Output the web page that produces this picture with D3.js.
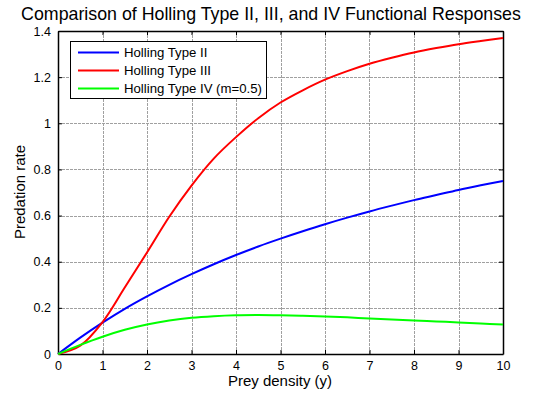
<!DOCTYPE html>
<html>
<head>
<meta charset="utf-8">
<script src="https://cdn.jsdelivr.net/npm/d3@7"></script>
<style>
  html, body { margin: 0; padding: 0; background: #fff; }
  svg { display: block; font-family: "Liberation Sans", Arial, sans-serif; }
</style>
</head>
<body>
<svg id="chart" width="536" height="393"></svg>
<script>
// Prey density samples
const preyDensity = [0, 0.5, 1, 1.5, 2, 2.5, 3, 3.5, 4, 4.5, 5, 5.5, 6, 6.5, 7, 7.5, 8, 8.5, 9, 9.5, 10];

// Predation rates per functional response
const typeII = [0, 0.071, 0.136, 0.196, 0.25, 0.30, 0.346, 0.389, 0.429, 0.466, 0.50, 0.532, 0.5625, 0.591, 0.618, 0.643, 0.667, 0.689, 0.711, 0.731, 0.75];
const typeIII = [0, 0.036, 0.138, 0.288, 0.44, 0.595, 0.73, 0.847, 0.94, 1.022, 1.09, 1.143, 1.189, 1.226, 1.258, 1.284, 1.307, 1.326, 1.343, 1.357, 1.37];
const typeIV = [0, 0.0395, 0.075, 0.105, 0.128, 0.145, 0.157, 0.164, 0.168, 0.169, 0.168, 0.166, 0.163, 0.159, 0.154, 0.150, 0.145, 0.141, 0.137, 0.132, 0.128];

const seriesNames = ["Holling Type II", "Holling Type III", "Holling Type IV (m=0.5)"];
const seriesColors = ["#0000ff", "#ff0000", "#00ff00"];

const xTicks = [0, 1, 2, 3, 4, 5, 6, 7, 8, 9, 10];
const yTicks = [0, 0.2, 0.4, 0.6, 0.8, 1, 1.2, 1.4];

const titleText = "Comparison of Holling Type II, III, and IV Functional Responses";
const xLabel = "Prey density (y)";
const yLabel = "Predation rate";

const svg = d3.select("#chart");
const plot = { left: 58, right: 503, top: 31, bottom: 354 };

const x = d3.scaleLinear().domain([0, 10]).range([plot.left, plot.right]);
const y = d3.scaleLinear().domain([0, 1.4]).range([plot.bottom, plot.top]);

// Grid
const grid = svg.append("g").attr("stroke", "#a0a0a0").attr("stroke-width", 1).attr("stroke-dasharray", "3,1");
grid.selectAll("line.vx").data(xTicks.slice(1, -1)).enter().append("line")
  .attr("x1", d => Math.round(x(d)) + 0.5).attr("x2", d => Math.round(x(d)) + 0.5)
  .attr("y1", plot.top).attr("y2", plot.bottom);
grid.selectAll("line.hy").data(yTicks.slice(1, -1)).enter().append("line")
  .attr("y1", d => Math.round(y(d)) + 0.5).attr("y2", d => Math.round(y(d)) + 0.5)
  .attr("x1", plot.left).attr("x2", plot.right);

// Axes with inward ticks
const fmt = d => String(d);
const xAxisB = d3.axisBottom(x).tickValues(xTicks).tickFormat(fmt).tickSizeInner(-4).tickSizeOuter(0).tickPadding(7);
const xAxisT = d3.axisTop(x).tickValues(xTicks).tickFormat("").tickSizeInner(-4).tickSizeOuter(0);
const yAxisL = d3.axisLeft(y).tickValues(yTicks).tickFormat(fmt).tickSizeInner(-4).tickSizeOuter(0).tickPadding(7);
const yAxisR = d3.axisRight(y).tickValues(yTicks).tickFormat("").tickSizeInner(-4).tickSizeOuter(0);

function styleAxis(g) {
  g.select(".domain").attr("stroke", "#000").attr("stroke-width", 1.5);
  g.selectAll(".tick line").attr("stroke", "#000");
  g.selectAll(".tick text").attr("fill", "#000").style("font-size", "12.5px")
    .style("font-family", "'Liberation Sans', Arial, sans-serif");
}
svg.append("g").attr("transform", `translate(0,${plot.bottom})`).call(xAxisB).call(styleAxis);
svg.append("g").attr("transform", `translate(0,${plot.top})`).call(xAxisT).call(styleAxis);
svg.append("g").attr("transform", `translate(${plot.left},0)`).call(yAxisL).call(styleAxis);
svg.append("g").attr("transform", `translate(${plot.right},0)`).call(yAxisR).call(styleAxis);

// Curves
const line = d3.line().x((d, i) => x(preyDensity[i])).y(d => y(d)).curve(d3.curveCatmullRom.alpha(0.5));
[typeII, typeIII, typeIV].forEach((vals, k) => {
  svg.append("path").datum(vals)
    .attr("fill", "none").attr("stroke", seriesColors[k]).attr("stroke-width", 2)
    .attr("d", line);
});

// Legend
const lg = svg.append("g");
lg.append("rect").attr("x", 70.5).attr("y", 41.5).attr("width", 196).attr("height", 57)
  .attr("fill", "#fff").attr("stroke", "#000").attr("stroke-width", 1);
seriesNames.forEach((name, k) => {
  const yy = 52.5 + k * 18;
  lg.append("line").attr("x1", 78).attr("x2", 119).attr("y1", yy).attr("y2", yy)
    .attr("stroke", seriesColors[k]).attr("stroke-width", 2);
  lg.append("text").attr("x", 124).attr("y", yy + 4.5).text(name)
    .style("font-size", "13.2px").attr("fill", "#000");
});

// Title and axis labels
svg.append("text").attr("x", 271).attr("y", 20).attr("text-anchor", "middle")
  .style("font-size", "17.8px").attr("fill", "#000").text(titleText);
svg.append("text").attr("x", 280).attr("y", 386).attr("text-anchor", "middle")
  .style("font-size", "15px").attr("fill", "#000").text(xLabel);
svg.append("text").attr("transform", "translate(25,192) rotate(-90)").attr("text-anchor", "middle")
  .style("font-size", "15px").attr("fill", "#000").text(yLabel);
</script>
</body>
</html>
